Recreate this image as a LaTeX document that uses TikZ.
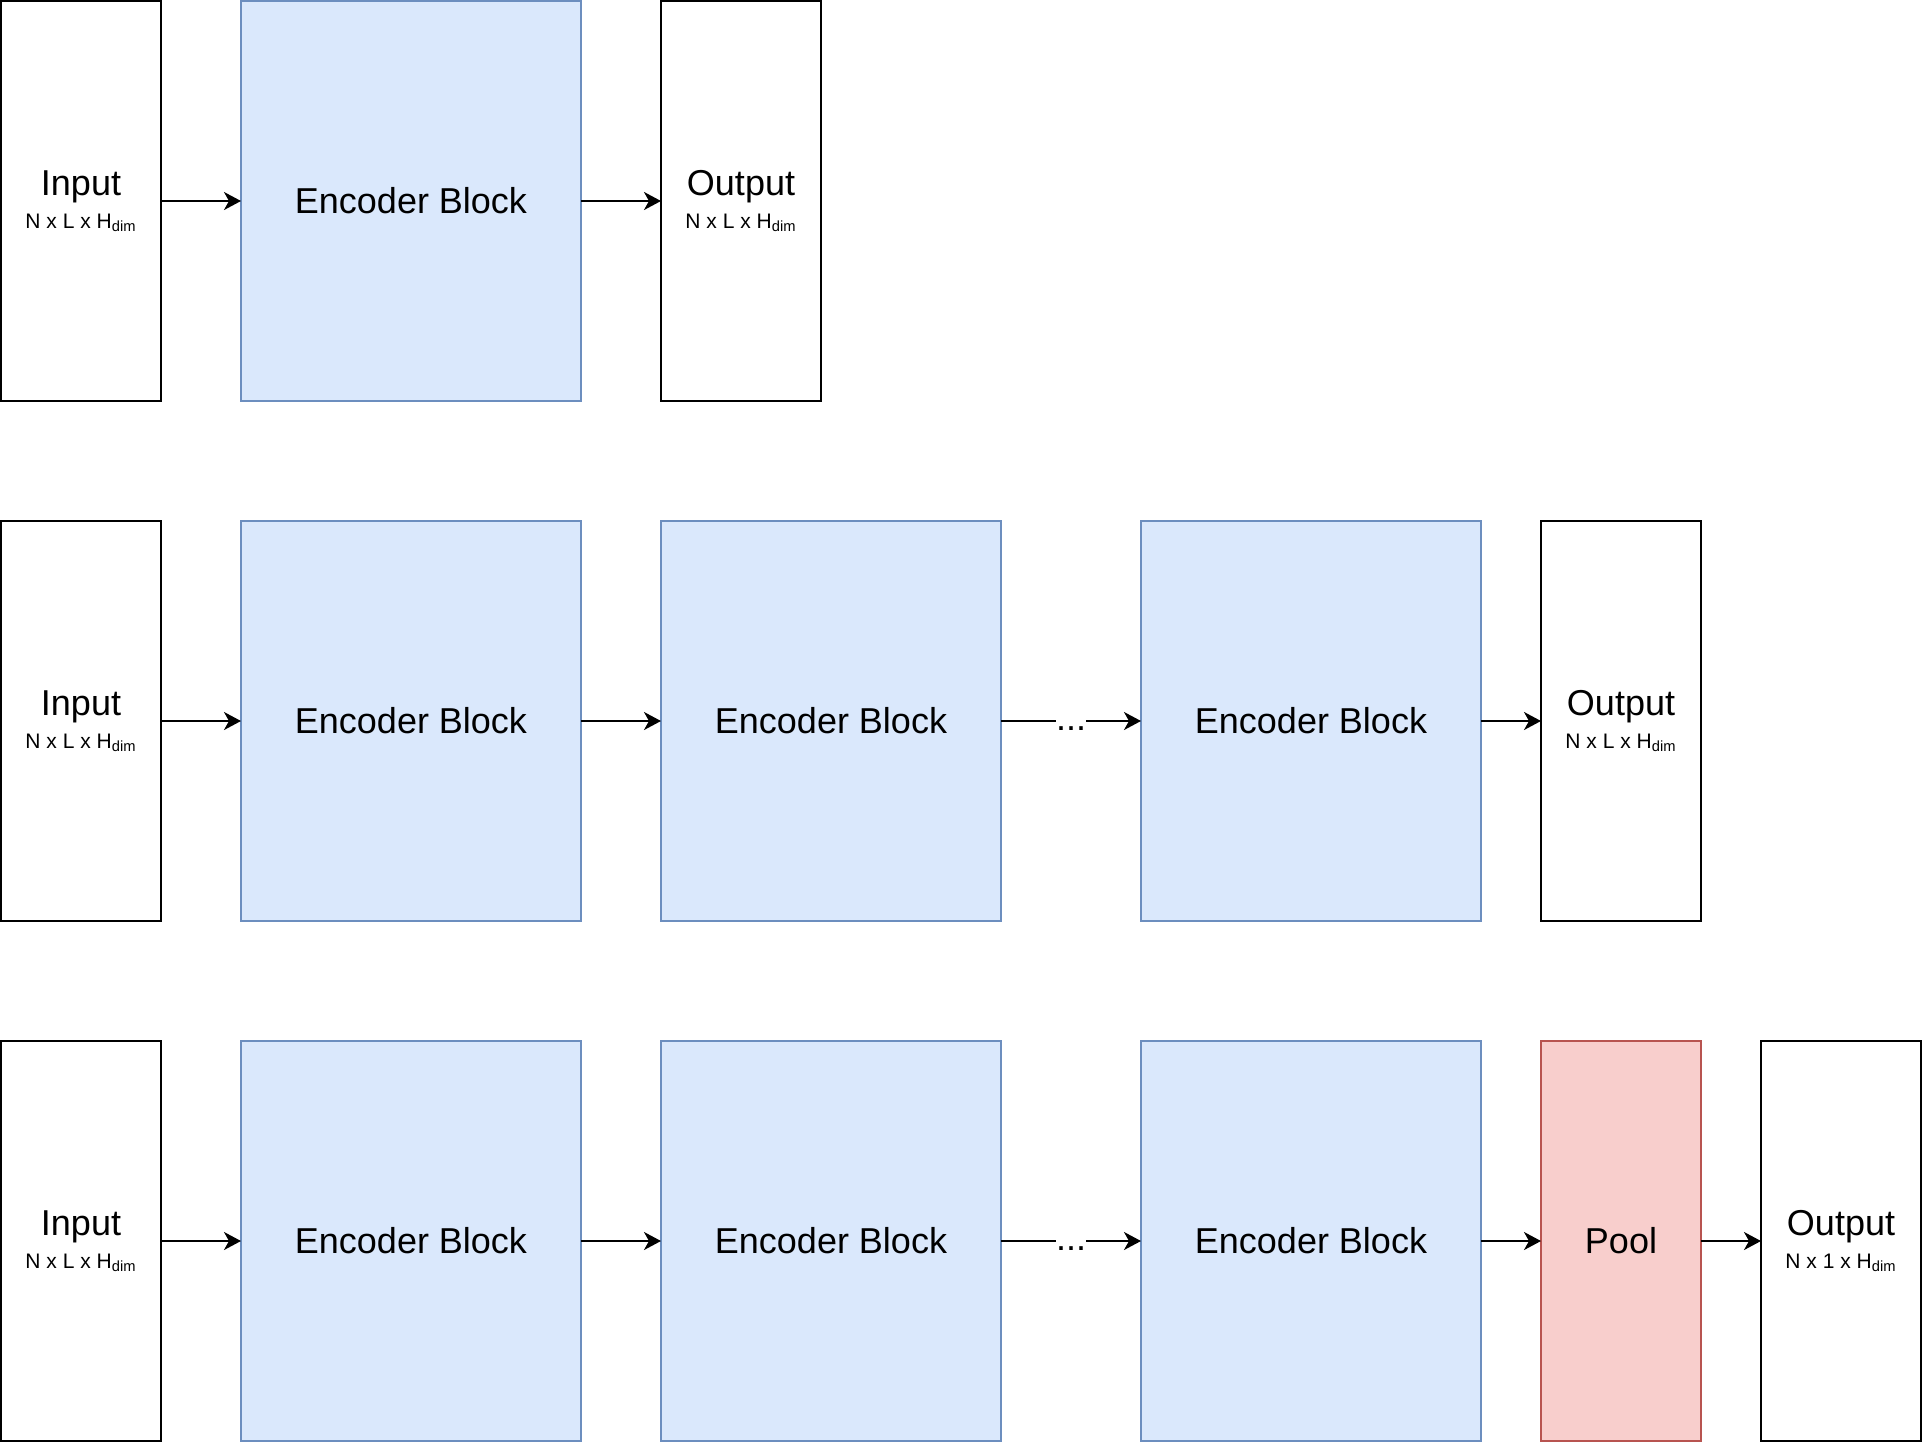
\documentclass[tikz,border=0pt]{standalone}
\usepackage{fontspec}
\setmainfont{Liberation Sans}
\usepackage{xcolor}
\usetikzlibrary{positioning,arrows.meta}
\definecolor{encfill}{HTML}{DAE8FC}
\definecolor{encline}{HTML}{6C8EBF}
\definecolor{poolfill}{HTML}{F8CECC}
\definecolor{poolline}{HTML}{B85450}
\newcommand{\encdim}[1]{{\fontsize{10.5}{16.5}\selectfont #1}}
\tikzset{
    encio/.style={draw=black, line width=1pt, fill=white, align=center, inner sep=0pt, outer sep=0pt, minimum width=80pt, minimum height=200pt, font=\fontsize{18}{16.5}\selectfont},
    encblock/.style={draw=encline, line width=1pt, fill=encfill, align=center, inner sep=0pt, outer sep=0pt, minimum width=170pt, minimum height=200pt, font=\fontsize{18}{21}\selectfont},
    encpool/.style={draw=poolline, line width=1pt, fill=poolfill, align=center, inner sep=0pt, outer sep=0pt, minimum width=80pt, minimum height=200pt, font=\fontsize{18}{21}\selectfont},
    encarrow/.style={draw, line width=1pt, -{Stealth[length=8.5pt, width=9pt, inset=2.5pt]}},
    encdots/.style={fill=white, inner sep=0pt, text height=13pt, text depth=3.5pt, font=\fontsize{18}{21}\selectfont}
}
\begin{document}
\begin{tikzpicture}[node distance=40pt]
    \useasboundingbox (-0.5pt,0.5pt) rectangle (961.5pt,-720.5pt);

    \node[encio, anchor=north west] (inA) at (0,0) {Input\\\encdim{N x L x H\textsubscript{dim}}};
    \node[encblock, right=of inA] (encA) {Encoder Block};
    \node[encio, right=of encA] (outA) {Output\\\encdim{N x L x H\textsubscript{dim}}};

    \node[encio, below=60pt of inA] (inB) {Input\\\encdim{N x L x H\textsubscript{dim}}};
    \node[encblock, right=of inB] (encBa) {Encoder Block};
    \node[encblock, right=of encBa] (encBb) {Encoder Block};
    \node[encblock, right=70pt of encBb] (encBc) {Encoder Block};
    \node[encio, right=30pt of encBc] (outB) {Output\\\encdim{N x L x H\textsubscript{dim}}};

    \node[encio, below=60pt of inB] (inC) {Input\\\encdim{N x L x H\textsubscript{dim}}};
    \node[encblock, right=of inC] (encCa) {Encoder Block};
    \node[encblock, right=of encCa] (encCb) {Encoder Block};
    \node[encblock, right=70pt of encCb] (encCc) {Encoder Block};
    \node[encpool, right=30pt of encCc] (poolC) {Pool};
    \node[encio, right=30pt of poolC] (outC) {Output\\\encdim{N x 1 x H\textsubscript{dim}}};

    \draw[encarrow] (inA) -- (encA);
    \draw[encarrow] (encA) -- (outA);

    \draw[encarrow] (inB) -- (encBa);
    \draw[encarrow] (encBa) -- (encBb);
    \draw[encarrow] (encBb) -- node[encdots] {...} (encBc);
    \draw[encarrow] (encBc) -- (outB);

    \draw[encarrow] (inC) -- (encCa);
    \draw[encarrow] (encCa) -- (encCb);
    \draw[encarrow] (encCb) -- node[encdots] {...} (encCc);
    \draw[encarrow] (encCc) -- (poolC);
    \draw[encarrow] (poolC) -- (outC);
\end{tikzpicture}
\end{document}
